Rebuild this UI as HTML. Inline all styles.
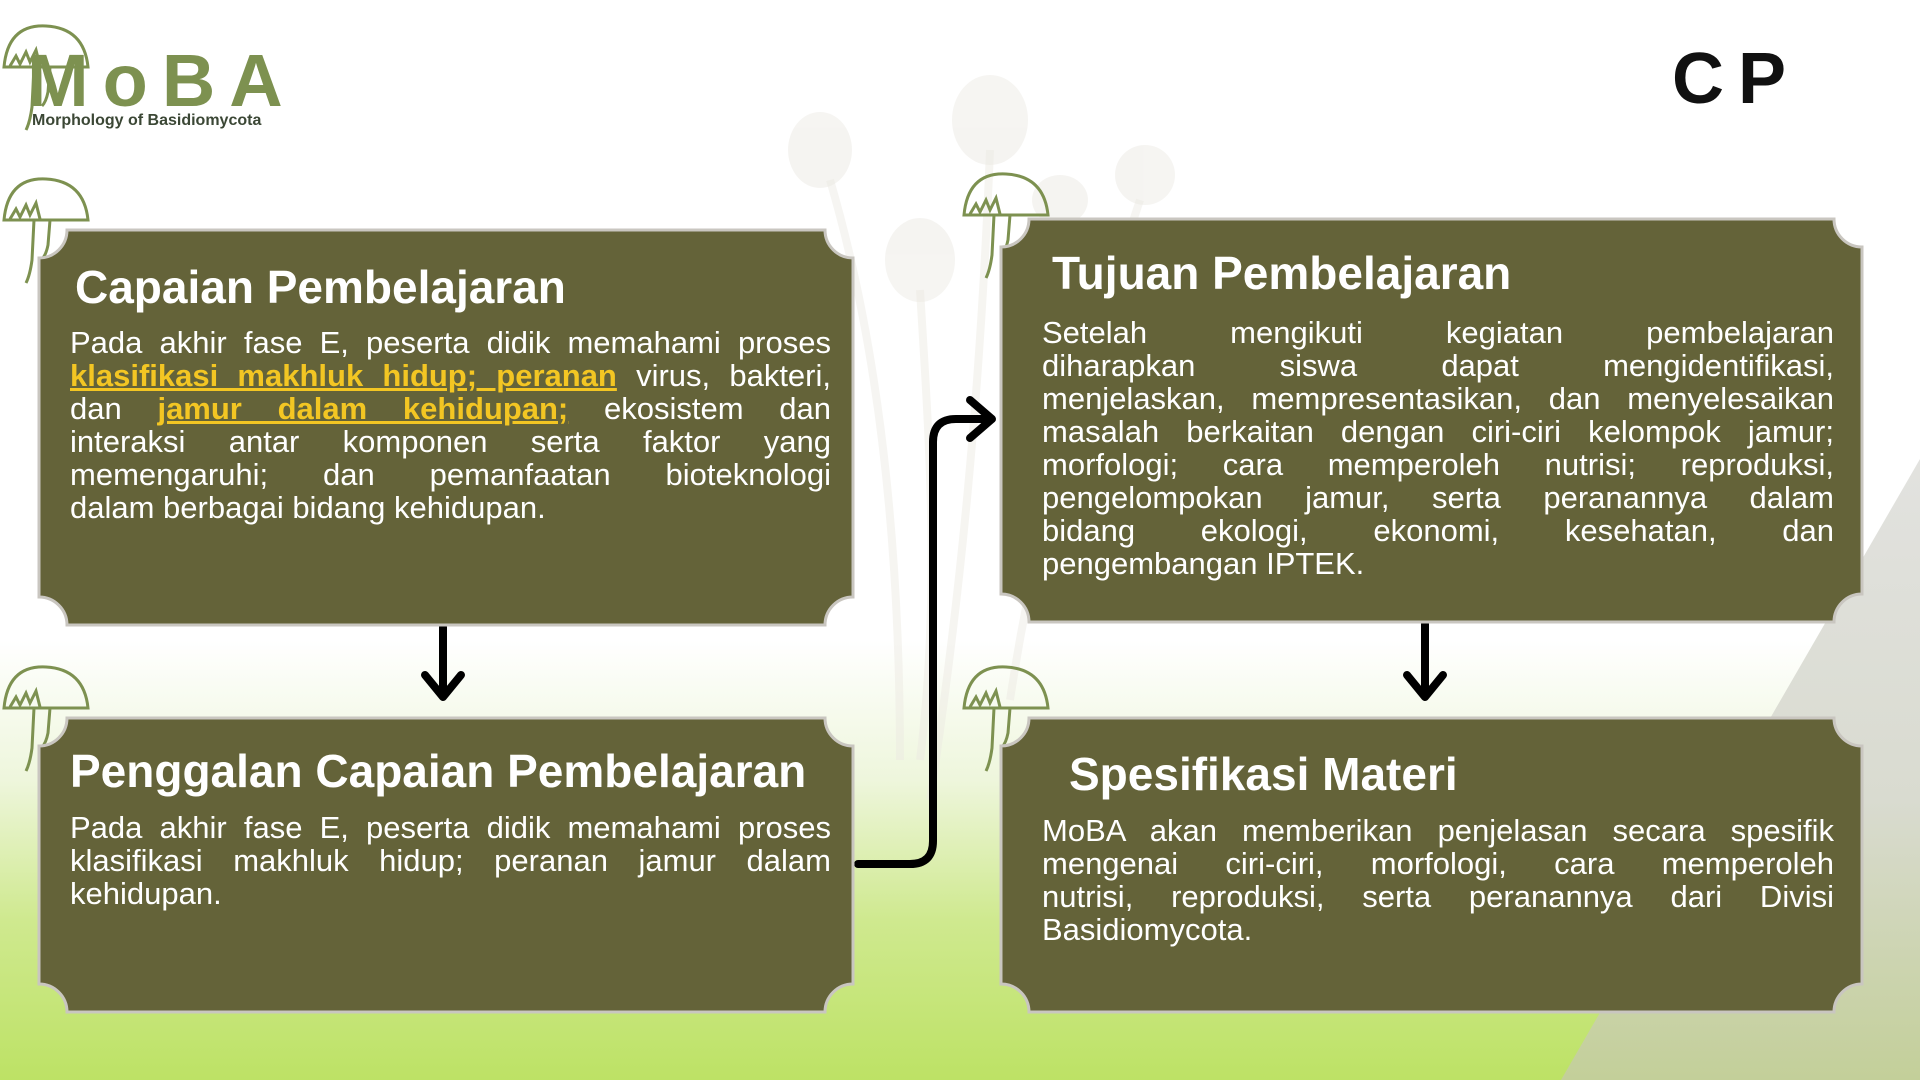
<!DOCTYPE html>
<html><head><meta charset="utf-8">
<style>
*{margin:0;padding:0;box-sizing:border-box}
body{width:1920px;height:1080px;overflow:hidden;position:relative;font-family:"Liberation Sans",sans-serif;
background:linear-gradient(to bottom,#fff 0,#fff 640px,#eef6dc 780px,#cfe98f 920px,#bde265 1080px);}
.tri{position:absolute;left:0;top:0}
.box{position:absolute;color:#fff}
.box svg{position:absolute;left:0;top:0}
.ttl{position:absolute;font-weight:bold;font-size:46px;white-space:nowrap}
.bd{position:absolute;font-size:31px;line-height:33px}
.bd div{text-align:justify;text-align-last:justify;white-space:nowrap}
.bd div.l{text-align-last:left}
.hl{color:#f3c623;font-weight:bold;text-decoration:underline}
.logo{position:absolute;left:27px;top:38px;font-size:74px;font-weight:bold;color:#7d9150;letter-spacing:14px}
.sub{position:absolute;left:32px;top:112px;font-size:16px;font-weight:bold;color:#3b4735}
.cp{position:absolute;left:1672px;top:38px;font-size:72px;font-weight:bold;color:#111;letter-spacing:14px}
</style></head><body>
<svg class="tri" width="1920" height="1080">
<defs><linearGradient id="g" x1="0" y1="0" x2="0" y2="1"><stop offset="0" stop-color="#e2e2df"/><stop offset="0.55" stop-color="#d9dbd0"/><stop offset="1" stop-color="#c3cf99"/></linearGradient></defs>
<polygon points="1920,459 1561,1080 1920,1080" fill="url(#g)"/>
<g fill="#ebe8e2" opacity="0.45">
<ellipse cx="990" cy="120" rx="38" ry="45"/><ellipse cx="920" cy="260" rx="35" ry="42"/><ellipse cx="820" cy="150" rx="32" ry="38"/><ellipse cx="1145" cy="175" rx="30" ry="30"/><ellipse cx="1060" cy="200" rx="28" ry="25"/>
</g>
<g stroke="#ece9e2" stroke-width="8" fill="none" opacity="0.45">
<path d="M990 150 C980 400 960 600 930 800"/><path d="M920 290 C930 450 940 600 920 760"/><path d="M830 180 C880 350 900 550 900 760"/><path d="M1140 200 C1090 350 1040 500 1010 700"/>
</g>
<g stroke="#000" stroke-width="8" fill="none" stroke-linecap="round" stroke-linejoin="round">
<line x1="443" y1="627" x2="443" y2="695"/><polyline points="425,675 443,697 461,675"/>
<line x1="1425" y1="624" x2="1425" y2="695"/><polyline points="1407,675 1425,697 1443,675"/>
<path d="M858 864 L910 864 Q933 864 933 841 L933 442 Q933 419 956 419 L990 419"/>
<polyline points="970,400 992,419 970,438"/>
</g>
</svg>

<svg width="1920" height="1080" style="position:absolute;left:0;top:0">
<defs>
<g id="m" fill="none" stroke="#7d9150" stroke-width="3">
<path d="M4 45 Q8 2 46 4 Q84 6 88 45 Z"/>
<path d="M10 44 L16 34 L20 42 L26 30 L30 40 L36 28 L40 44"/>
<path d="M34 45 L32 85 Q30 100 26 108 M50 45 L48 70 Q46 80 42 84"/>
</g>
</defs>
<use href="#m" x="0" y="22"/>
<use href="#m" x="0" y="175"/>
<use href="#m" x="0" y="663"/>
<use href="#m" x="960" y="170"/>
<use href="#m" x="960" y="663"/>
</svg>

<div class="logo">MoBA</div>
<div class="sub">Morphology of Basidiomycota</div>
<div class="cp">CP</div>

<div class="box" style="left:37px;top:228px;width:818px;height:399px">
<svg width="818" height="399"><path d="M30 2 H788 A28 28 0 0 0 816 30 V369 A28 28 0 0 0 788 397 H30 A28 28 0 0 0 2 369 V30 A28 28 0 0 0 30 2 Z" fill="#646339" stroke="#c9c6c0" stroke-width="3"/></svg>
<div class="ttl" style="left:38px;top:32px">Capaian Pembelajaran</div>
<div class="bd" style="left:33px;top:98px;width:761px">
<div>Pada akhir fase E, peserta didik memahami proses</div>
<div><span class="hl">klasifikasi makhluk hidup; peranan</span> virus, bakteri,</div>
<div>dan <span class="hl">jamur dalam kehidupan;</span> ekosistem dan</div>
<div>interaksi antar komponen serta faktor yang</div>
<div>memengaruhi; dan pemanfaatan bioteknologi</div>
<div class="l">dalam berbagai bidang kehidupan.</div>
</div></div>

<div class="box" style="left:37px;top:716px;width:818px;height:298px">
<svg width="818" height="298"><path d="M30 2 H788 A28 28 0 0 0 816 30 V268 A28 28 0 0 0 788 296 H30 A28 28 0 0 0 2 268 V30 A28 28 0 0 0 30 2 Z" fill="#646339" stroke="#c9c6c0" stroke-width="3"/></svg>
<div class="ttl" style="left:33px;top:28px">Penggalan Capaian Pembelajaran</div>
<div class="bd" style="left:33px;top:95px;width:761px">
<div>Pada akhir fase E, peserta didik memahami proses</div>
<div>klasifikasi makhluk hidup; peranan jamur dalam</div>
<div class="l">kehidupan.</div>
</div></div>

<div class="box" style="left:999px;top:217px;width:865px;height:407px">
<svg width="865" height="407"><path d="M30 2 H835 A28 28 0 0 0 863 30 V377 A28 28 0 0 0 835 405 H30 A28 28 0 0 0 2 377 V30 A28 28 0 0 0 30 2 Z" fill="#646339" stroke="#c9c6c0" stroke-width="3"/></svg>
<div class="ttl" style="left:53px;top:29px">Tujuan Pembelajaran</div>
<div class="bd" style="left:43px;top:99px;width:792px">
<div>Setelah mengikuti kegiatan pembelajaran</div>
<div>diharapkan siswa dapat mengidentifikasi,</div>
<div>menjelaskan, mempresentasikan, dan menyelesaikan</div>
<div>masalah berkaitan dengan ciri-ciri kelompok jamur;</div>
<div>morfologi; cara memperoleh nutrisi; reproduksi,</div>
<div>pengelompokan jamur, serta peranannya dalam</div>
<div>bidang ekologi, ekonomi, kesehatan, dan</div>
<div class="l">pengembangan IPTEK.</div>
</div></div>

<div class="box" style="left:999px;top:716px;width:865px;height:298px">
<svg width="865" height="298"><path d="M30 2 H835 A28 28 0 0 0 863 30 V268 A28 28 0 0 0 835 296 H30 A28 28 0 0 0 2 268 V30 A28 28 0 0 0 30 2 Z" fill="#646339" stroke="#c9c6c0" stroke-width="3"/></svg>
<div class="ttl" style="left:70px;top:31px">Spesifikasi Materi</div>
<div class="bd" style="left:43px;top:98px;width:792px">
<div>MoBA akan memberikan penjelasan secara spesifik</div>
<div>mengenai ciri-ciri, morfologi, cara memperoleh</div>
<div>nutrisi, reproduksi, serta peranannya dari Divisi</div>
<div class="l">Basidiomycota.</div>
</div></div>
</body></html>
